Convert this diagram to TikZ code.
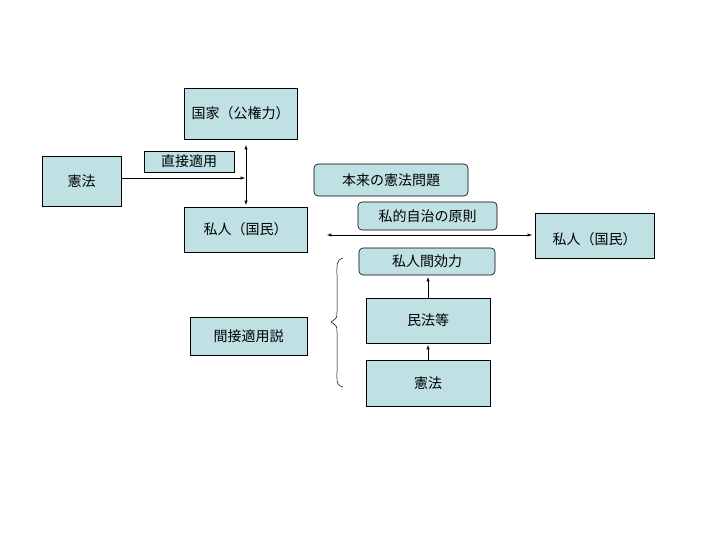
\documentclass[tikz,border=0pt]{standalone}
\usepackage{fontspec}
\setmainfont{Noto Sans CJK JP}
\tikzset{
 bx/.style={draw,fill=boxc,line width=0.6pt,inner sep=0pt},
 pl/.style={draw,fill=boxc,line width=0.6pt,rounded corners=4pt,inner sep=0pt},
 ar/.style={-latex,line width=0.5pt},
 da/.style={latex-latex,line width=0.5pt},
 lab/.style={font=\fontsize{14}{16}\selectfont}
}
\definecolor{boxc}{HTML}{BFE1E4}
\begin{document}
\begin{tikzpicture}[x=1pt,y=-1pt]
\useasboundingbox (0,0) rectangle (720,540);
\draw[bx] (184,88) rectangle (297,139);
\node[lab] (kok) at (240.5,113.5) {国家（公権力）};
\draw[bx] (42,156) rectangle (121,206);
\node[lab] (ken1) at (81.5,181) {憲法};
\draw[bx] (144,151) rectangle (234,172);
\node[lab] (cho) at (189,161.5) {直接適用};
\draw[bx] (184,207) rectangle (307,252);
\node[lab] (sj1) at (245.5,229.5) {私人（国民）};
\draw[pl] (314,164) rectangle (468,196);
\node[lab] (hon) at (391,180) {本来の憲法問題};
\draw[pl] (358,202) rectangle (497,230);
\node[lab] (shi) at (427.5,216) {私的自治の原則};
\draw[bx] (535,213) rectangle (654,258);
\node[lab] (sj2) at (594.5,239) {私人（国民）};
\draw[pl] (359,248) rectangle (495,275);
\node[lab] (kan) at (427,261.5) {私人間効力};
\draw[bx] (366,298) rectangle (490,343);
\node[lab] (min) at (428,320.5) {民法等};
\draw[bx] (366,360) rectangle (490,406);
\node[lab] (ken2) at (428,383) {憲法};
\draw[bx] (190,317) rectangle (307,355);
\node[lab] (kans) at (248.5,336) {間接適用説};
\coordinate (a1) at (246,145); \coordinate (a2) at (246,205);
\draw[da] (a1) -- (a2);
\coordinate (l1) at (121,178); \coordinate (l2) at (245,178);
\draw[ar] (l1) -- (l2);
\coordinate (h1) at (327,235); \coordinate (h2) at (532,235);
\draw[da] (h1) -- (h2);
\coordinate (m1) at (428,298); \coordinate (m2) at (428,277);
\draw[ar] (m1) -- (m2);
\coordinate (k1) at (428,360); \coordinate (k2) at (428,345);
\draw[ar] (k1) -- (k2);
\draw[line width=0.5pt] (343,258) .. controls (336,260) and (337,265) .. (337,275) -- (337,312) .. controls (337,318) .. (331,322) .. controls (337,326) .. (337,332) -- (337,372) .. controls (337,382) and (336,385) .. (343,387);
\end{tikzpicture}
\end{document}
